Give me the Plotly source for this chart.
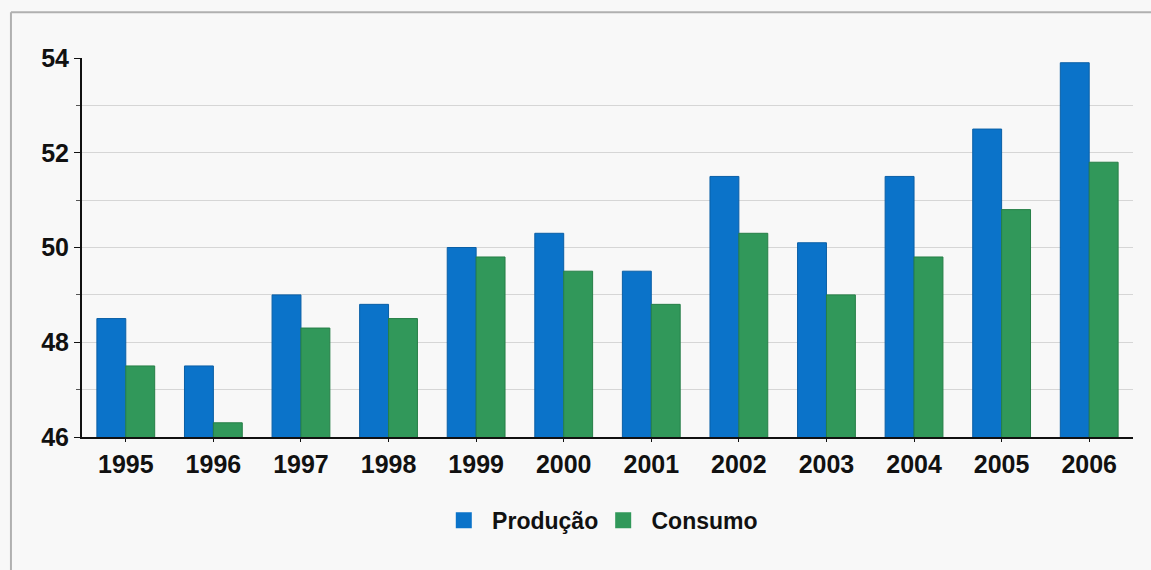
import plotly.graph_objects as go

anos = ["1995", "1996", "1997", "1998", "1999", "2000",
        "2001", "2002", "2003", "2004", "2005", "2006"]
producao = [48.5, 47.5, 49.0, 48.8, 50.0, 50.3, 49.5, 51.5, 50.1, 51.5, 52.5, 53.9]
consumo = [47.5, 46.3, 48.3, 48.5, 49.8, 49.5, 48.8, 50.3, 49.0, 49.8, 50.8, 51.8]
y_ticks = [46, 48, 50, 52, 54]

AZUL = "#0b73c9"
VERDE = "#31985a"
FONTE = "Liberation Sans, Arial, sans-serif"

fig = go.Figure()
fig.add_trace(go.Bar(x=anos, y=producao, name="Produção", marker_color=AZUL,
                     marker_line=dict(color="#0a5fa6", width=1), showlegend=False))
fig.add_trace(go.Bar(x=anos, y=consumo, name="Consumo", marker_color=VERDE,
                     marker_line=dict(color="#267f47", width=1), showlegend=False))

# legend entries with larger square swatches
for nome, cor in [("Produção", AZUL), ("Consumo", VERDE)]:
    fig.add_trace(go.Scatter(x=[None], y=[None], mode="markers", name="\u00a0\u200a" + nome,
                             marker=dict(symbol="square", size=20, color=cor)))

fig.update_layout(
    width=1151, height=570,
    margin=dict(l=82, r=18, t=58, b=133),
    paper_bgcolor="#f8f8f8",
    plot_bgcolor="#f8f8f8",
    barmode="group",
    bargap=0.34,
    bargroupgap=0.0,
    font=dict(family=FONTE, color="#111111"),
    legend=dict(orientation="h", x=0.496, xanchor="center", y=-0.22, yanchor="middle",
                font=dict(size=23, weight="bold", family=FONTE), bgcolor="rgba(0,0,0,0)",
                itemwidth=30),
    xaxis=dict(
        type="category", showgrid=False, showline=True, linecolor="#111111", linewidth=2,
        ticks="outside", ticklen=3, tickcolor="#111111",
        tickfont=dict(size=25, weight="bold", family=FONTE), ticklabelstandoff=1,
    ),
    yaxis=dict(
        range=[46, 54], tickvals=y_ticks, showline=True, linecolor="#111111", linewidth=2,
        ticks="outside", ticklen=6, tickcolor="#111111",
        tickfont=dict(size=25, weight="bold", family=FONTE),
        showgrid=True, gridcolor="#d6d6d6", gridwidth=1, zeroline=False,
        minor=dict(dtick=1, showgrid=True, gridcolor="#d6d6d6", ticks="outside",
                   ticklen=4, tickcolor="#555555"),
    ),
    shapes=[
        dict(type="line", xref="paper", yref="paper", x0=-0.0676, x1=-0.0676,
             y0=-0.4, y1=1.121, line=dict(color="#b0b0b0", width=2)),
        dict(type="line", xref="paper", yref="paper", x0=-0.0676, x1=1.03,
             y0=1.121, y1=1.121, line=dict(color="#b0b0b0", width=2)),
    ],
)

fig.write_html("out.html")
